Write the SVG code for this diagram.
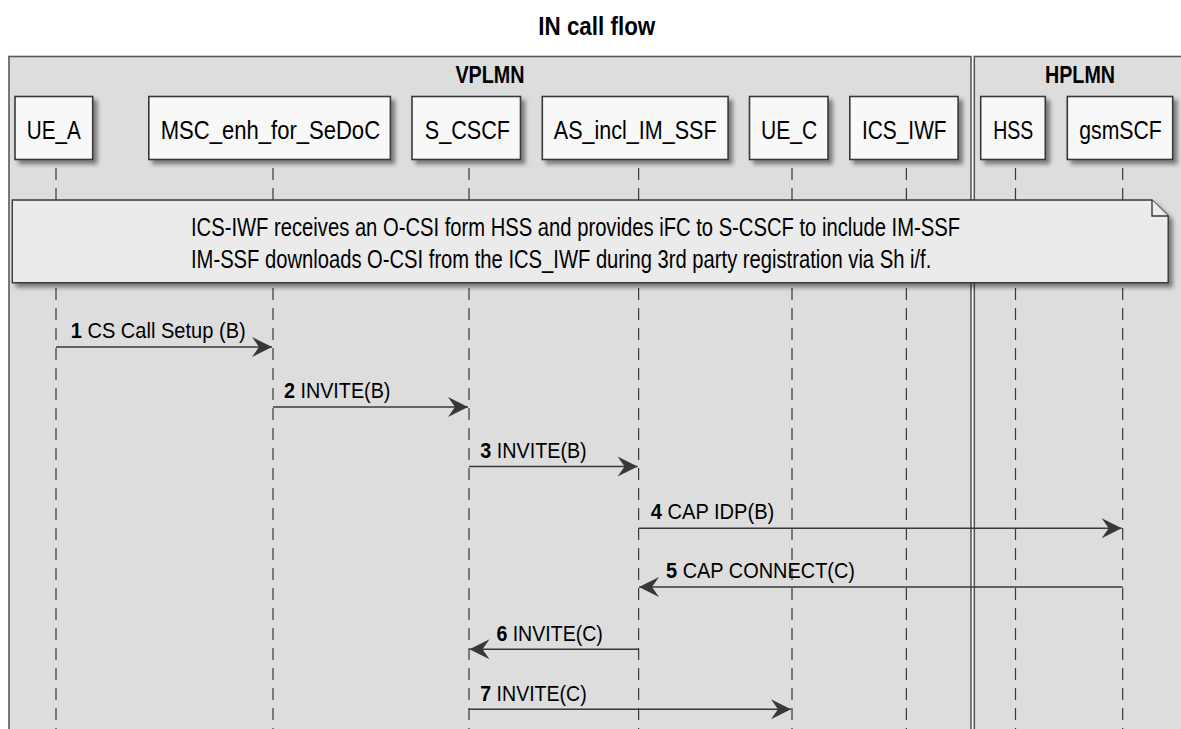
<svg xmlns="http://www.w3.org/2000/svg" width="1181" height="729" viewBox="0 0 1181 729">
  <defs>
    <filter id="shadow" x="-10%" y="-10%" width="130%" height="140%">
      <feDropShadow dx="4" dy="4" stdDeviation="2.2" flood-color="#000" flood-opacity="0.45"/>
    </filter>
    <marker id="head" viewBox="-21 -11 22 22" refX="0" refY="0" markerWidth="22" markerHeight="22" markerUnits="userSpaceOnUse" orient="auto">
      <path d="M0,0 L-20,-10 L-13,0 L-20,10 Z" fill="#383838"/>
    </marker>
    <style>
      .title { font-family: "Liberation Sans", Arial, sans-serif; font-weight: bold; font-size: 25px; fill: #000; }
      .boxlbl { font-family: "Liberation Sans", Arial, sans-serif; font-weight: bold; font-size: 24.5px; fill: #000; }
      .frame { fill: #dddddd; stroke: #5a5a5a; stroke-width: 1.6; }
      .part rect { fill: #f8f8f8; stroke: #383838; stroke-width: 1.6; filter: url(#shadow); }
      .part text { font-family: "Liberation Sans", Arial, sans-serif; font-size: 26.5px; fill: #000; text-anchor: middle; }
      .life { stroke: #383838; stroke-width: 1.2; stroke-dasharray: 12 8; fill: none; }
      .note path { fill: #ebebeb; stroke: #383838; stroke-width: 1.4; }
      .note .shape { filter: url(#shadow); }
      .note text { font-family: "Liberation Sans", Arial, sans-serif; font-size: 26px; fill: #000; }
      .msg line { stroke: #383838; stroke-width: 1.6; marker-end: url(#head); }
      .msg text { font-family: "Liberation Sans", Arial, sans-serif; font-size: 21.5px; fill: #000; }
      .msg .n { font-weight: bold; }
    </style>
  </defs>

  <rect width="1181" height="729" fill="#ffffff"/>

  <text class="title" x="538.3" y="35" textLength="117" lengthAdjust="spacingAndGlyphs">IN call flow</text>

  <!-- network boxes -->
  <g id="box_vplmn">
    <rect class="frame" x="9" y="56.5" width="962" height="700"/>
    <text class="boxlbl" x="455.4" y="82.7" textLength="69" lengthAdjust="spacingAndGlyphs">VPLMN</text>
  </g>
  <g id="box_hplmn">
    <rect class="frame" x="974.3" y="56.5" width="230" height="700"/>
    <text class="boxlbl" x="1045" y="83" textLength="70" lengthAdjust="spacingAndGlyphs">HPLMN</text>
  </g>

  <!-- lifelines -->
  <g id="lifelines">
    <line class="life" x1="56" y1="168" x2="56" y2="740"/>
    <line class="life" x1="273" y1="168" x2="273" y2="740"/>
    <line class="life" x1="469" y1="168" x2="469" y2="740"/>
    <line class="life" x1="638.6" y1="168" x2="638.6" y2="740"/>
    <line class="life" x1="792" y1="168" x2="792" y2="740"/>
    <line class="life" x1="906.4" y1="168" x2="906.4" y2="740"/>
    <line class="life" x1="1015.5" y1="168" x2="1015.5" y2="740"/>
    <line class="life" x1="1122.7" y1="168" x2="1122.7" y2="740"/>
  </g>

  <!-- participants -->
  <g id="UE_A" class="part">
    <rect x="15" y="96.5" width="77.7" height="63"/>
    <text x="53.8" y="139" textLength="54" lengthAdjust="spacingAndGlyphs">UE_A</text>
  </g>
  <g id="MSC_enh_for_SeDoC" class="part">
    <rect x="148.8" y="96.5" width="241.6" height="63"/>
    <text x="270.4" y="139" textLength="219.3" lengthAdjust="spacingAndGlyphs">MSC_enh_for_SeDoC</text>
  </g>
  <g id="S_CSCF" class="part">
    <rect x="412" y="96.5" width="108.5" height="63"/>
    <text x="467.4" y="139" textLength="85.3" lengthAdjust="spacingAndGlyphs">S_CSCF</text>
  </g>
  <g id="AS_incl_IM_SSF" class="part">
    <rect x="542.3" y="96.5" width="185.8" height="63"/>
    <text x="635.2" y="139" textLength="162.8" lengthAdjust="spacingAndGlyphs">AS_incl_IM_SSF</text>
  </g>
  <g id="UE_C" class="part">
    <rect x="749.5" y="96.5" width="78.5" height="63"/>
    <text x="789.1" y="139" textLength="56.3" lengthAdjust="spacingAndGlyphs">UE_C</text>
  </g>
  <g id="ICS_IWF" class="part">
    <rect x="849.8" y="96.5" width="108.3" height="63"/>
    <text x="904.3" y="139" textLength="84.6" lengthAdjust="spacingAndGlyphs">ICS_IWF</text>
  </g>
  <g id="HSS" class="part">
    <rect x="980.7" y="96.5" width="64.6" height="63"/>
    <text x="1013.3" y="139" textLength="40" lengthAdjust="spacingAndGlyphs">HSS</text>
  </g>
  <g id="gsmSCF" class="part">
    <rect x="1067.3" y="96.5" width="105.4" height="63"/>
    <text x="1120.5" y="139" textLength="82.4" lengthAdjust="spacingAndGlyphs">gsmSCF</text>
  </g>

  <!-- note spanning all participants -->
  <g id="note" class="note">
    <path class="shape" d="M12.3,200 L1152,200 L1168.2,216 L1168.2,282.7 L12.3,282.7 Z"/>
    <path d="M1152,200 L1152,216 L1168.2,216" fill="none"/>
    <text x="191" y="236" textLength="769" lengthAdjust="spacingAndGlyphs">ICS-IWF receives an O-CSI form HSS and provides iFC to S-CSCF to include IM-SSF</text>
    <text x="191" y="268.3" textLength="740.3" lengthAdjust="spacingAndGlyphs">IM-SSF downloads O-CSI from the ICS_IWF during 3rd party registration via Sh i/f.</text>
  </g>

  <!-- messages -->
  <g id="connectors" class="msg">
    <line x1="56" y1="347" x2="272" y2="347"/>
    <text x="70.7" y="338.3" textLength="175" lengthAdjust="spacingAndGlyphs"><tspan class="n">1</tspan> CS Call Setup (B)</text>

    <line x1="273" y1="407" x2="468" y2="407"/>
    <text x="284" y="398.3" textLength="106.4" lengthAdjust="spacingAndGlyphs"><tspan class="n">2</tspan> INVITE(B)</text>

    <line x1="469" y1="466.5" x2="637.6" y2="466.5"/>
    <text x="480.3" y="457.8" textLength="106.4" lengthAdjust="spacingAndGlyphs"><tspan class="n">3</tspan> INVITE(B)</text>

    <line x1="638.6" y1="528.3" x2="1121.7" y2="528.3"/>
    <text x="650.7" y="519.3" textLength="123.6" lengthAdjust="spacingAndGlyphs"><tspan class="n">4</tspan> CAP IDP(B)</text>

    <line x1="1122.7" y1="587" x2="639" y2="587"/>
    <text x="666" y="578.3" textLength="189" lengthAdjust="spacingAndGlyphs"><tspan class="n">5</tspan> CAP CONNECT(C)</text>

    <line x1="638.6" y1="649.3" x2="469.5" y2="649.3"/>
    <text x="496.4" y="640.5" textLength="106.4" lengthAdjust="spacingAndGlyphs"><tspan class="n">6</tspan> INVITE(C)</text>

    <line x1="469" y1="709.3" x2="791" y2="709.3"/>
    <text x="480.3" y="700.5" textLength="106.4" lengthAdjust="spacingAndGlyphs"><tspan class="n">7</tspan> INVITE(C)</text>
  </g>
</svg>
